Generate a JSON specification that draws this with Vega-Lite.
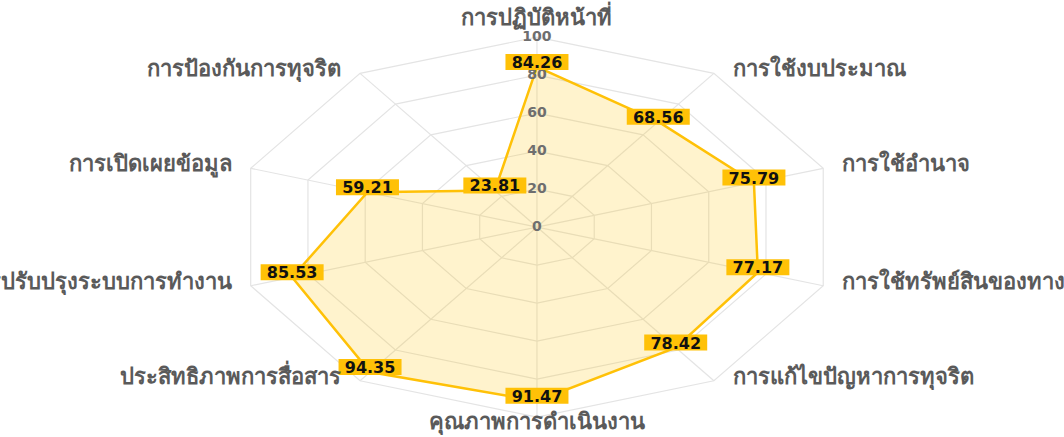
{
  "$schema": "https://vega.github.io/schema/vega-lite/v6.json",
  "width": 1064,
  "height": 437,
  "autosize": {"type": "none"},
  "padding": 0,
  "background": "white",
  "config": {"view": {"stroke": null}},
  "datasets": {
    "axes": [
      {"i": 0, "name": "การปฏิบัติหน้าที่", "value": 84.26},
      {"i": 1, "name": "การใช้งบประมาณ", "value": 68.56},
      {"i": 2, "name": "การใช้อำนาจ", "value": 75.79},
      {"i": 3, "name": "การใช้ทรัพย์สินของทางราชการ", "value": 77.17},
      {"i": 4, "name": "การแก้ไขปัญหาการทุจริต", "value": 78.42},
      {"i": 5, "name": "คุณภาพการดำเนินงาน", "value": 91.47},
      {"i": 6, "name": "ประสิทธิภาพการสื่อสาร", "value": 94.35},
      {"i": 7, "name": "การปรับปรุงระบบการทำงาน", "value": 85.53},
      {"i": 8, "name": "การเปิดเผยข้อมูล", "value": 59.21},
      {"i": 9, "name": "การป้องกันการทุจริต", "value": 23.81}
    ],
    "rings": [
      {"level": 20, "i": [0, 1, 2, 3, 4, 5, 6, 7, 8, 9]},
      {"level": 40, "i": [0, 1, 2, 3, 4, 5, 6, 7, 8, 9]},
      {"level": 60, "i": [0, 1, 2, 3, 4, 5, 6, 7, 8, 9]},
      {"level": 80, "i": [0, 1, 2, 3, 4, 5, 6, 7, 8, 9]},
      {"level": 100, "i": [0, 1, 2, 3, 4, 5, 6, 7, 8, 9]}
    ],
    "ticks": [
      {"level": 0}, {"level": 20}, {"level": 40}, {"level": 60}, {"level": 80}, {"level": 100}
    ]
  },
  "encoding": {
    "x": {"field": "cx", "type": "quantitative", "scale": {"domain": [-178.4, 175.1], "nice": false, "zero": false}, "axis": null},
    "y": {"field": "cy", "type": "quantitative", "scale": {"domain": [-110.5, 119.5], "nice": false, "zero": false}, "axis": null}
  },
  "layer": [
    {
      "data": {"name": "rings"},
      "transform": [
        {"flatten": ["i"]},
        {"calculate": "datum.level*sin(datum.i*PI/5)", "as": "cx"},
        {"calculate": "datum.level*cos(datum.i*PI/5)", "as": "cy"}
      ],
      "mark": {"type": "line", "interpolate": "linear-closed", "stroke": "#e4e4e4", "strokeWidth": 1.2},
      "encoding": {"detail": {"field": "level"}, "order": {"field": "i", "type": "quantitative"}}
    },
    {
      "data": {"name": "axes"},
      "transform": [
        {"calculate": "0", "as": "cx"},
        {"calculate": "0", "as": "cy"},
        {"calculate": "100*sin(datum.i*PI/5)", "as": "ex"},
        {"calculate": "100*cos(datum.i*PI/5)", "as": "ey"}
      ],
      "mark": {"type": "rule", "stroke": "#e4e4e4", "strokeWidth": 1.2},
      "encoding": {"x2": {"field": "ex"}, "y2": {"field": "ey"}}
    },
    {
      "data": {"name": "axes"},
      "transform": [
        {"calculate": "datum.value*sin(datum.i*PI/5)", "as": "cx"},
        {"calculate": "datum.value*cos(datum.i*PI/5)", "as": "cy"}
      ],
      "mark": {"type": "line", "interpolate": "linear-closed", "fill": "#FFC107", "fillOpacity": 0.2, "stroke": "#FFC107", "strokeWidth": 2.5},
      "encoding": {"order": {"field": "i", "type": "quantitative"}}
    },
    {
      "data": {"name": "ticks"},
      "transform": [
        {"calculate": "0", "as": "cx"},
        {"calculate": "datum.level", "as": "cy"}
      ],
      "mark": {"type": "text", "font": "DejaVu Sans", "fontSize": 14, "fontWeight": "bold", "color": "#6e6e6e", "align": "center", "baseline": "middle"},
      "encoding": {"text": {"field": "level", "type": "quantitative"}}
    },
    {
      "data": {"name": "axes"},
      "transform": [
        {"calculate": "datum.value*sin(datum.i*PI/5)", "as": "cx"},
        {"calculate": "datum.value*cos(datum.i*PI/5)", "as": "cy"}
      ],
      "mark": {"type": "point", "shape": "M-1,-0.254L1,-0.254L1,0.254L-1,0.254Z", "size": 3969, "filled": true, "color": "#FFC107", "opacity": 1, "strokeWidth": 0, "yOffset": -5},
      "encoding": {}
    },
    {
      "data": {"name": "axes"},
      "transform": [
        {"calculate": "datum.value*sin(datum.i*PI/5)", "as": "cx"},
        {"calculate": "datum.value*cos(datum.i*PI/5)", "as": "cy"}
      ],
      "mark": {"type": "text", "font": "DejaVu Sans", "fontSize": 16, "fontWeight": "bold", "color": "#111111", "align": "center", "baseline": "middle", "yOffset": -4},
      "encoding": {"text": {"field": "value", "type": "quantitative", "format": ".2f"}}
    },
    {
      "data": {"name": "axes"},
      "transform": [
        {"filter": "datum.i >= 1 && datum.i <= 4"},
        {"calculate": "100*sin(datum.i*PI/5)", "as": "cx"},
        {"calculate": "100*cos(datum.i*PI/5)", "as": "cy"}
      ],
      "mark": {"type": "text", "fontSize": 22, "fontWeight": "bold", "color": "#5a5a5a", "align": "left", "baseline": "middle", "dx": 19, "dy": -4},
      "encoding": {"text": {"field": "name"}}
    },
    {
      "data": {"name": "axes"},
      "transform": [
        {"filter": "datum.i >= 6 && datum.i <= 9"},
        {"calculate": "100*sin(datum.i*PI/5)", "as": "cx"},
        {"calculate": "100*cos(datum.i*PI/5)", "as": "cy"}
      ],
      "mark": {"type": "text", "fontSize": 22, "fontWeight": "bold", "color": "#5a5a5a", "align": "right", "baseline": "middle", "dx": -19, "dy": -4},
      "encoding": {"text": {"field": "name"}}
    },
    {
      "data": {"name": "axes"},
      "transform": [
        {"filter": "datum.i == 0"},
        {"calculate": "100*sin(datum.i*PI/5)", "as": "cx"},
        {"calculate": "100*cos(datum.i*PI/5)", "as": "cy"}
      ],
      "mark": {"type": "text", "fontSize": 22, "fontWeight": "bold", "color": "#5a5a5a", "align": "center", "baseline": "middle", "dy": -19},
      "encoding": {"text": {"field": "name"}}
    },
    {
      "data": {"name": "axes"},
      "transform": [
        {"filter": "datum.i == 5"},
        {"calculate": "100*sin(datum.i*PI/5)", "as": "cx"},
        {"calculate": "100*cos(datum.i*PI/5)", "as": "cy"}
      ],
      "mark": {"type": "text", "fontSize": 22, "fontWeight": "bold", "color": "#5a5a5a", "align": "center", "baseline": "middle", "dy": 5},
      "encoding": {"text": {"field": "name"}}
    }
  ]
}
